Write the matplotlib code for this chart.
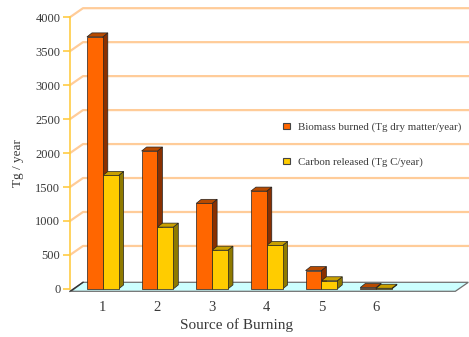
import matplotlib
matplotlib.use("Agg")
import matplotlib.pyplot as plt
from matplotlib.patches import Polygon, Patch

# data
sources = [1, 2, 3, 4, 5, 6]
biomass = [3710, 2030, 1260, 1440, 270, 20]
carbon = [1670, 910, 570, 640, 120, 10]
labels = ["Biomass burned (Tg dry matter/year)", "Carbon released (Tg C/year)"]
yticks = [0, 500, 1000, 1500, 2000, 2500, 3000, 3500, 4000]

serif = "Liberation Serif"
orange = ("#FF6600", "#8A3000", "#B84A00")   # front, side, top
yellow = ("#FFCC00", "#8F7A00", "#C9A000")
txt = "#3a3a3a"

fig = plt.figure(figsize=(4.69, 3.37), dpi=100)
ax = fig.add_axes([70 / 469, 44 / 337, 399 / 469, 286 / 337])
xmin, xmax = 0.4, 7.7
ymin, ymax = -60, 4150
ax.set_xlim(xmin, xmax)
ax.set_ylim(ymin, ymax)

# pixel -> data conversions for the fake depth
px_x = (xmax - xmin) / 399.0
px_y = (ymax - ymin) / 286.0
back_dx, back_dy = 13 * px_x, 9 * px_y
bar_dx, bar_dy = 5 * px_x, 4 * px_y
w = 0.29

# back wall grid lines
for v in yticks[1:]:
    ax.plot([xmin, xmin + back_dx, xmax], [v, v + back_dy, v + back_dy],
            color="#FFCC99", lw=1.6, zorder=1, clip_on=False)

# floor
f0 = -35
floor_right = 7.45
ax.add_patch(Polygon([(xmin + 0.02, f0), (floor_right, f0),
                      (floor_right + back_dx, f0 + back_dy), (xmin + back_dx, f0 + back_dy)],
                     closed=True, facecolor="#CCFFFF", edgecolor="#707070", lw=0.9, zorder=2,
                     clip_on=False))
ax.plot([xmin, xmin + back_dx], [f0, f0 + back_dy], color="#333333", lw=1.0, zorder=3,
        clip_on=False)


def bar3d(x, h, cols):
    x0, x1 = x - w / 2, x + w / 2
    side = [(x1, 0), (x1 + bar_dx, bar_dy), (x1 + bar_dx, h + bar_dy), (x1, h)]
    top = [(x0, h), (x1, h), (x1 + bar_dx, h + bar_dy), (x0 + bar_dx, h + bar_dy)]
    ax.add_patch(Polygon(side, closed=True, facecolor=cols[1], edgecolor="#222222", lw=0.5, zorder=4))
    ax.add_patch(Polygon(top, closed=True, facecolor=cols[2], edgecolor="#222222", lw=0.5, zorder=4))
    ax.bar(x, h, width=w, color=cols[0], edgecolor="#222222", lw=0.5, zorder=5)


for s, b, c in zip(sources, biomass, carbon):
    bar3d(s - w / 2, b, orange)
    bar3d(s + w / 2, c, yellow)

# axes styling
for k in ["top", "right", "bottom"]:
    ax.spines[k].set_visible(False)
ax.spines["left"].set_color("#FFCC44")
ax.spines["left"].set_linewidth(1.2)
ax.spines["left"].set_bounds(0, 4000)
ax.set_yticks(yticks)
ax.set_yticklabels([str(t) for t in yticks], fontfamily=serif, fontsize=9, color=txt)
ax.tick_params(axis="y", color="#FFCC44", length=5, width=1.2, pad=2)
ax.set_xticks(sources)
ax.set_xticklabels([str(s) for s in sources], fontfamily=serif, fontsize=10.5, color=txt)
ax.tick_params(axis="x", length=0, pad=6)

fig.text(18 / 469, 1 - 163 / 337, "Tg / year", rotation=90, ha="center", va="center",
         fontfamily=serif, fontsize=9.5, color=txt)
fig.text(236 / 469, 1 - 325 / 337, "Source of Burning", ha="center", va="center",
         fontfamily=serif, fontsize=11, color=txt)

handles = [Patch(facecolor=orange[0], edgecolor="#444444", lw=0.8),
           Patch(facecolor=yellow[0], edgecolor="#444444", lw=0.8)]
fig.legend(handles, labels, loc="upper left", bbox_to_anchor=(278 / 469, 1 - 117 / 337),
           frameon=False, prop={"family": serif, "size": 7.8}, handlelength=0.6,
           handleheight=0.6, handletextpad=0.7, labelspacing=2.35, borderpad=0,
           labelcolor=txt)

fig.savefig("out.png", dpi=100)
